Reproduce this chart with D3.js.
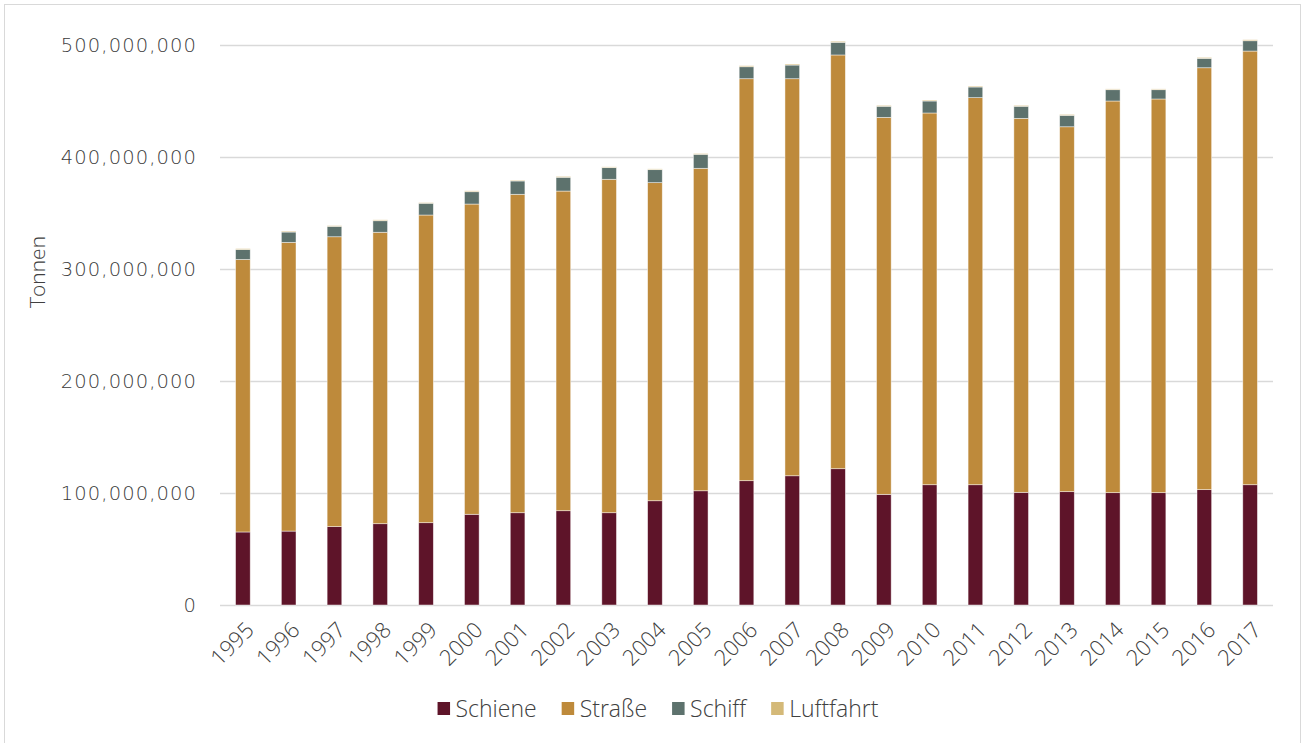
<!DOCTYPE html>
<html>
<head>
<meta charset="utf-8">
<script src="https://cdn.jsdelivr.net/npm/d3@7"></script>
<style>
  html, body { margin: 0; padding: 0; background: #fff; }
  svg { display: block; }
  .ylab { font-family: "DejaVu Sans", sans-serif; font-weight: 200; font-size: 19.5px; fill: #3a3a3a; letter-spacing: 1.1px; }
  .xlab, .leg, .title { font-family: "Open Sans", "Noto Sans", sans-serif; font-weight: 300; fill: #404040; }
</style>
</head>
<body>
<svg id="chart" width="1305" height="743"></svg>
<script>
// Gütertransport nach Verkehrsträger, in Tonnen
const years = ["1995","1996","1997","1998","1999","2000","2001","2002","2003","2004","2005","2006",
               "2007","2008","2009","2010","2011","2012","2013","2014","2015","2016","2017"];

const schiene = [65200000, 66000000, 70000000, 72600000, 73500000, 81000000, 82400000, 84200000,
                 82400000, 93100000, 102000000, 111000000, 115400000, 121700000, 98800000, 107400000,
                 107400000, 100600000, 101200000, 100300000, 100300000, 103000000, 107400000];

const strasse = [243300000, 257800000, 258800000, 260200000, 274700000, 277000000, 284300000, 285400000,
                 297700000, 284000000, 287900000, 358900000, 354500000, 369400000, 336600000, 331900000,
                 345600000, 333900000, 325800000, 349700000, 351500000, 376700000, 387200000];

const schiff = [8900000, 9200000, 9300000, 10300000, 10500000, 11000000, 11900000, 12300000,
                10400000, 11600000, 12500000, 10700000, 12200000, 11300000, 9900000, 10700000,
                9500000, 10800000, 10200000, 10100000, 8300000, 8400000, 9200000];

const luftfahrt = [800000, 800000, 600000, 800000, 600000, 800000, 700000, 800000,
                   700000, 700000, 700000, 900000, 900000, 900000, 800000, 800000,
                   800000, 800000, 800000, 700000, 700000, 800000, 900000];

const yTicks = [0, 100000000, 200000000, 300000000, 400000000, 500000000];

const seriesNames = ["Schiene", "Straße", "Schiff", "Luftfahrt"];
const seriesColors = ["#5e1429", "#be8a3b", "#5d726d", "#d4b978"];

const rows = years.map((y, i) => ({
  year: y,
  "Schiene": schiene[i],
  "Straße": strasse[i],
  "Schiff": schiff[i],
  "Luftfahrt": luftfahrt[i]
}));

const svg = d3.select("#chart");

// chart frame
svg.append("rect")
  .attr("x", 4.5).attr("y", 4.5)
  .attr("width", 1296).attr("height", 748)
  .attr("fill", "none").attr("stroke", "#d9d9d9").attr("stroke-width", 1);

const plot = { left: 220, right: 1273, top: 45, bottom: 605 };

const x = d3.scaleBand()
  .domain(years)
  .range([plot.left, plot.right])
  .paddingInner(0.68)
  .paddingOuter(0.34);

const y = d3.scaleLinear()
  .domain([0, 500000000])
  .range([plot.bottom, plot.top]);

const color = d3.scaleOrdinal().domain(seriesNames).range(seriesColors);

// horizontal gridlines
svg.append("g")
  .selectAll("line")
  .data(yTicks)
  .join("line")
  .attr("x1", plot.left).attr("x2", plot.right)
  .attr("y1", d => Math.round(y(d)) + 0.5).attr("y2", d => Math.round(y(d)) + 0.5)
  .attr("stroke", "#d9d9d9").attr("stroke-width", 1.5);

// y axis labels
const fmt = d3.format(",");
const yAxis = d3.axisLeft(y).tickValues(yTicks).tickFormat(fmt).tickSize(0).tickPadding(0);
const gy = svg.append("g").attr("transform", `translate(197,0)`).call(yAxis);
gy.select(".domain").remove();
gy.selectAll("text").attr("class", "ylab").attr("fill", null).attr("font-size", null).attr("font-family", null);

// stacked bars
const stacked = d3.stack().keys(seriesNames)(rows);

svg.append("g")
  .selectAll("g")
  .data(stacked)
  .join("g")
  .attr("fill", d => color(d.key))
  .selectAll("rect")
  .data(d => d)
  .join("rect")
  .attr("x", d => x(d.data.year))
  .attr("width", x.bandwidth())
  .attr("y", d => y(d[1]))
  .attr("height", d => y(d[0]) - y(d[1]))
  .attr("stroke", "#ffffff")
  .attr("stroke-opacity", 0.6)
  .attr("stroke-width", 0.75);

// x axis labels
const xAxis = d3.axisBottom(x).tickSize(0).tickPadding(0);
const gx = svg.append("g").attr("transform", `translate(0,${plot.bottom})`).call(xAxis);
gx.select(".domain").remove();
gx.selectAll("text")
  .attr("class", "xlab")
  .attr("fill", null).attr("font-size", null).attr("font-family", null)
  .style("font-size", "22px")
  .attr("text-anchor", "end")
  .attr("dy", "0.35em")
  .attr("y", 0)
  .attr("transform", "translate(7,21) rotate(-45)");

// axis title
svg.append("text")
  .attr("class", "title")
  .attr("transform", "translate(45,272) rotate(-90)")
  .attr("text-anchor", "middle")
  .style("font-size", "21px")
  .text("Tonnen");

// legend
const legend = svg.append("g").attr("class", "legend");
const legItems = legend.selectAll("g")
  .data(seriesNames)
  .join("g");

legItems.append("rect")
  .attr("width", 12.5).attr("height", 13)
  .attr("y", -13)
  .attr("fill", d => color(d));

legItems.append("text")
  .attr("class", "leg")
  .attr("x", 18)
  .attr("y", 0)
  .style("font-size", "23px")
  .attr("dy", "0.1em")
  .text(d => d);

// place legend items side by side, centred under the plot
const widths = [];
legItems.each(function () {
  const t = d3.select(this).select("text").node().getComputedTextLength();
  widths.push(18 + t);
});
const gap = 25;
const total = d3.sum(widths) + gap * (widths.length - 1);
const startX = 658 - total / 2;
legItems.attr("transform", (d, i) => {
  const tx = startX + d3.sum(widths.slice(0, i)) + gap * i;
  return `translate(${tx},715)`;
});
</script>
</body>
</html>
